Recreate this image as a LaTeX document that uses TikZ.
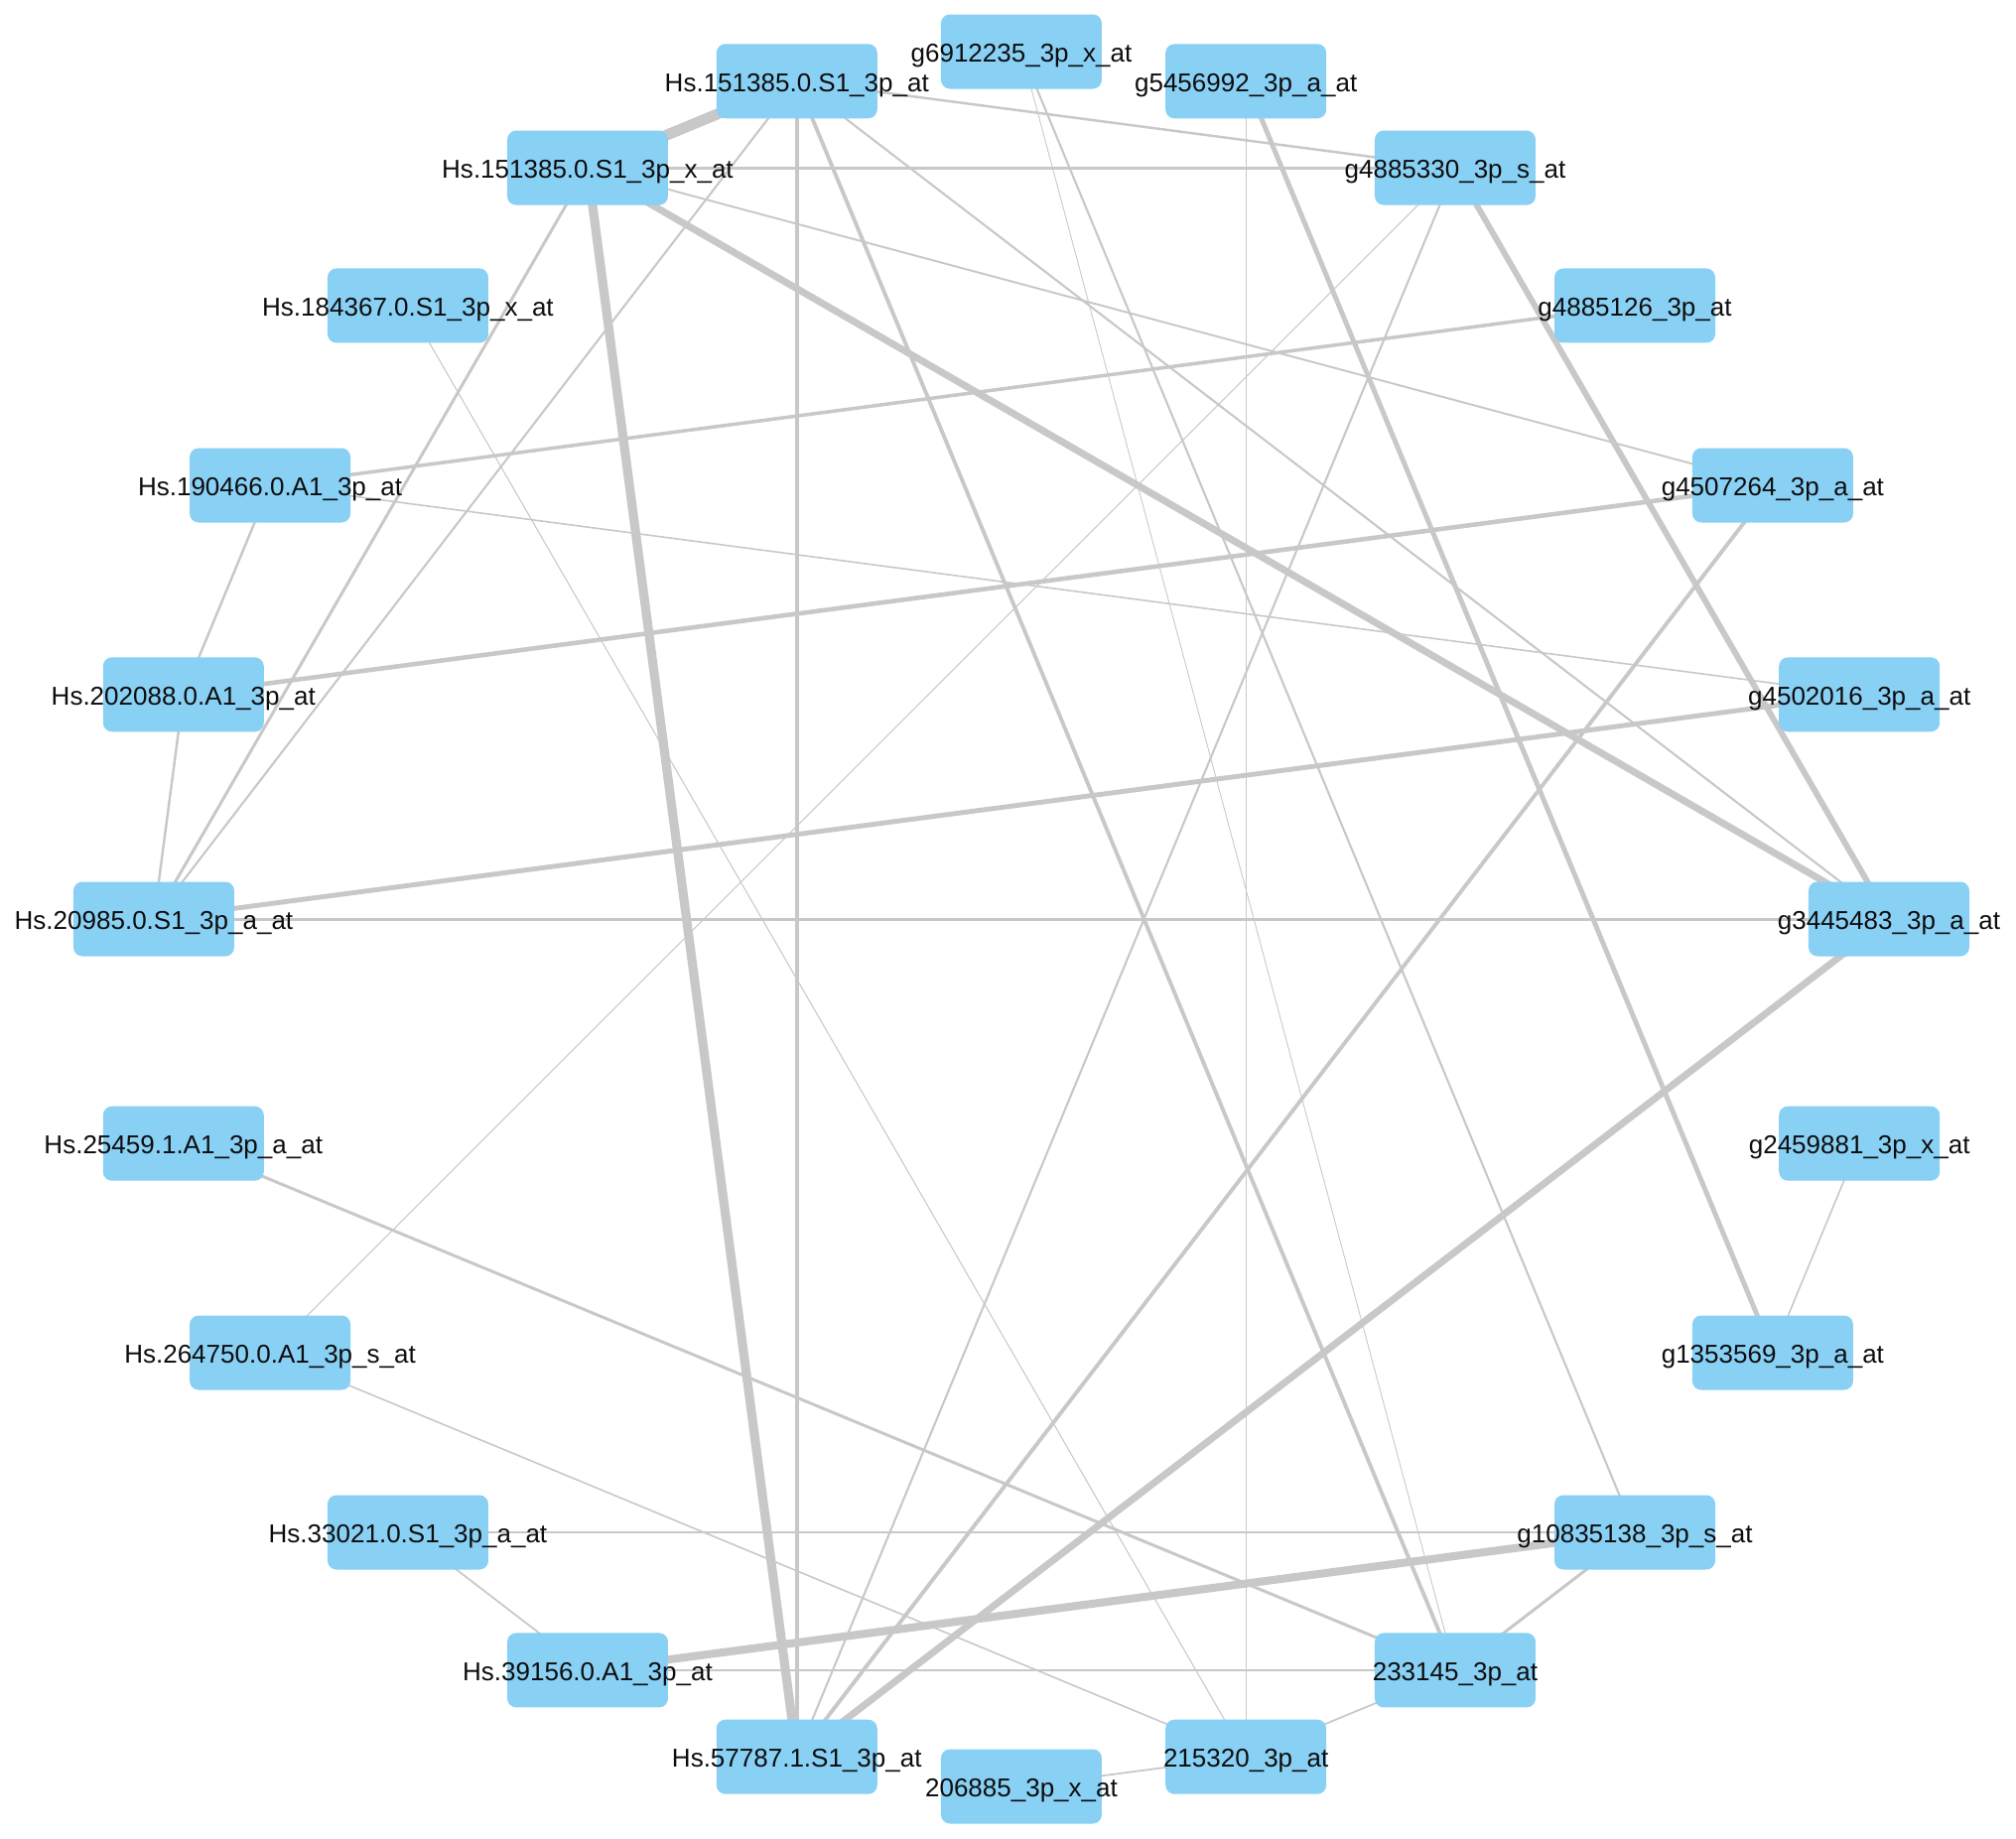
\documentclass[tikz,border=0pt]{standalone}
\usepackage{fontspec}
\setmainfont{Liberation Sans}
\usepackage{xcolor}

\definecolor{nodeblue}{HTML}{89D0F5}
\definecolor{linkgray}{RGB}{200,200,200}
\pgfdeclarelayer{background}
\pgfsetlayers{background,main}

\begin{document}
\begin{tikzpicture}[
        probe/.style={rectangle, rounded corners=0.9mm, fill=nodeblue, minimum width=1.62cm, minimum height=0.75cm, inner sep=0pt},
        probelabel/.style={anchor=base, yshift=-1.05mm, inner sep=0pt, text=black!95, font=\fontsize{7.4}{9}\selectfont},
        link/.style={draw=linkgray, line cap=round}
    ]
        \useasboundingbox (-10.29,-9.26) rectangle (10.02,9.26);

        % 1. 24 probe boxes on one circle, 15 degrees apart
        \foreach \i/\name/\txt in {
            0/g3445483/g3445483\_3p\_a\_at,
            1/g4502016/g4502016\_3p\_a\_at,
            2/g4507264/g4507264\_3p\_a\_at,
            3/g4885126/g4885126\_3p\_at,
            4/g4885330/g4885330\_3p\_s\_at,
            5/g5456992/g5456992\_3p\_a\_at,
            6/g6912235/g6912235\_3p\_x\_at,
            7/hs151385/Hs.151385.0.S1\_3p\_at,
            8/hs151385x/Hs.151385.0.S1\_3p\_x\_at,
            9/hs184367/Hs.184367.0.S1\_3p\_x\_at,
            10/hs190466/Hs.190466.0.A1\_3p\_at,
            11/hs202088/Hs.202088.0.A1\_3p\_at,
            12/hs20985/Hs.20985.0.S1\_3p\_a\_at,
            13/hs25459/Hs.25459.1.A1\_3p\_a\_at,
            14/hs264750/Hs.264750.0.A1\_3p\_s\_at,
            15/hs33021/Hs.33021.0.S1\_3p\_a\_at,
            16/hs39156/Hs.39156.0.A1\_3p\_at,
            17/hs57787/Hs.57787.1.S1\_3p\_at,
            18/p206885/206885\_3p\_x\_at,
            19/p215320/215320\_3p\_at,
            20/p233145/233145\_3p\_at,
            21/g10835138/g10835138\_3p\_s\_at,
            22/g1353569/g1353569\_3p\_a\_at,
            23/g2459881/g2459881\_3p\_x\_at} {
            \node[probe] (\name) at (15*\i:8.74) {};
            \node[probelabel] (\name-t) at (\name) {\txt};
        }

        % 2. weighted links, drawn under the boxes
        \begin{pgfonlayer}{background}
        \foreach \a/\b/\w in {
            hs151385/hs151385x/3.1, hs151385x/hs57787/2.6, g3445483/hs57787/2.0,
            hs151385x/g3445483/2.0, hs39156/g10835138/2.3, g4885330/g3445483/1.7,
            g5456992/g1353569/1.4, hs151385/hs57787/1.3, hs151385/p233145/1.1,
            hs20985/g4502016/1.4, hs202088/g4507264/1.3, g4507264/hs57787/1.1,
            g4885126/hs190466/1.0, hs151385x/g4885330/0.85, hs20985/g3445483/0.85,
            hs151385x/hs20985/0.85, hs25459/p233145/0.85, g10835138/p233145/0.85,
            hs190466/hs202088/0.7, hs202088/hs20985/0.7, hs151385/hs20985/0.6,
            hs151385/g3445483/0.6, g4885330/hs57787/0.6, g6912235/g10835138/0.6,
            hs151385x/g4507264/0.55, hs151385/g4885330/0.7, hs39156/p233145/0.6,
            hs33021/g10835138/0.6, hs33021/hs39156/0.5, p215320/p233145/0.5,
            p206885/p215320/0.5, hs264750/p215320/0.45, hs190466/g4502016/0.45,
            g2459881/g1353569/0.45, hs184367/p215320/0.3, g4885330/hs264750/0.3,
            g6912235/p233145/0.25, g5456992/p215320/0.25} {
            \draw[link, line width=\w pt] (\a.center) -- (\b.center);
        }
        \end{pgfonlayer}

    \end{tikzpicture}
\end{document}
